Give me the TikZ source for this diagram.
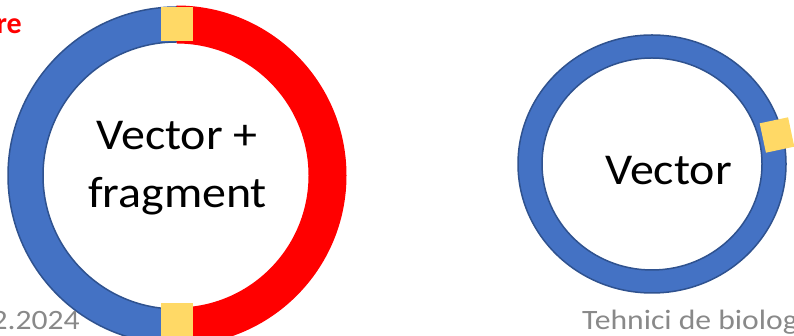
\documentclass[tikz,border=0pt]{standalone}
\usepackage{fontspec}
\setmainfont{Carlito}
\usetikzlibrary{calc}
\definecolor{vblue}{RGB}{68,114,196}
\definecolor{vdark}{RGB}{47,82,143}
\definecolor{vyellow}{RGB}{255,217,102}
\definecolor{vred}{RGB}{255,0,0}
\definecolor{footgray}{RGB}{137,137,137}
\tikzset{
  ringline/.style={draw=vdark, line width=1.5pt},
  patch/.style={fill=vyellow, draw=none},
  bigtext/.style={font=\fontsize{44}{52}\selectfont, text=black, inner sep=0pt, xscale=1.09},
  foot/.style={font=\fontsize{28}{32}\selectfont, text=footgray, inner sep=0pt, xscale=1.13},
}
\begin{document}
\begin{tikzpicture}[x=1pt,y=1pt]
\useasboundingbox (0,0) rectangle (794,336);
\clip (0,0) rectangle (794,336);
% left ring
\coordinate (cl) at (176.5,160.5);
\fill[vblue, even odd rule] (cl) circle (168.5) (cl) circle (133.5);
\draw[ringline] (cl) circle (168.5);
\draw[ringline] (cl) circle (133.5);
\fill[vred] ($(cl)+(90:170)$) arc (90:-90:170) -- ($(cl)+(-90:132)$) arc (-90:90:132) -- cycle;
\fill[patch] (161,295) rectangle (193,329);
\fill[patch] (161,-4) rectangle (193,33);
\node[bigtext, anchor=base] (t1) at (177,186) {Vector +};
\node[bigtext, anchor=base] (t2) at (177.5,128) {fragment};
% right ring
\coordinate (cr) at (652,172);
\fill[vblue, even odd rule] (cr) ellipse [x radius=134, y radius=129] (cr) ellipse [x radius=110, y radius=106];
\draw[ringline] (cr) ellipse [x radius=134, y radius=129];
\draw[ringline] (cr) ellipse [x radius=110, y radius=106];
\fill[patch, rotate around={12:(777,201)}] (762.5,186) rectangle (791.5,216);
\node[bigtext, anchor=base west] (t3) at (605,151) {Vector};
% texts at edges
\node[font=\fontsize{30}{34}\selectfont\bfseries, text=vred, anchor=base east, inner sep=0pt] (re) at (22,302) {re};
\node[foot, anchor=base east] (date) at (80,6) {2.2024};
\node[foot, anchor=base west] (title) at (582,6) {Tehnici de biologie};
\end{tikzpicture}
\end{document}
